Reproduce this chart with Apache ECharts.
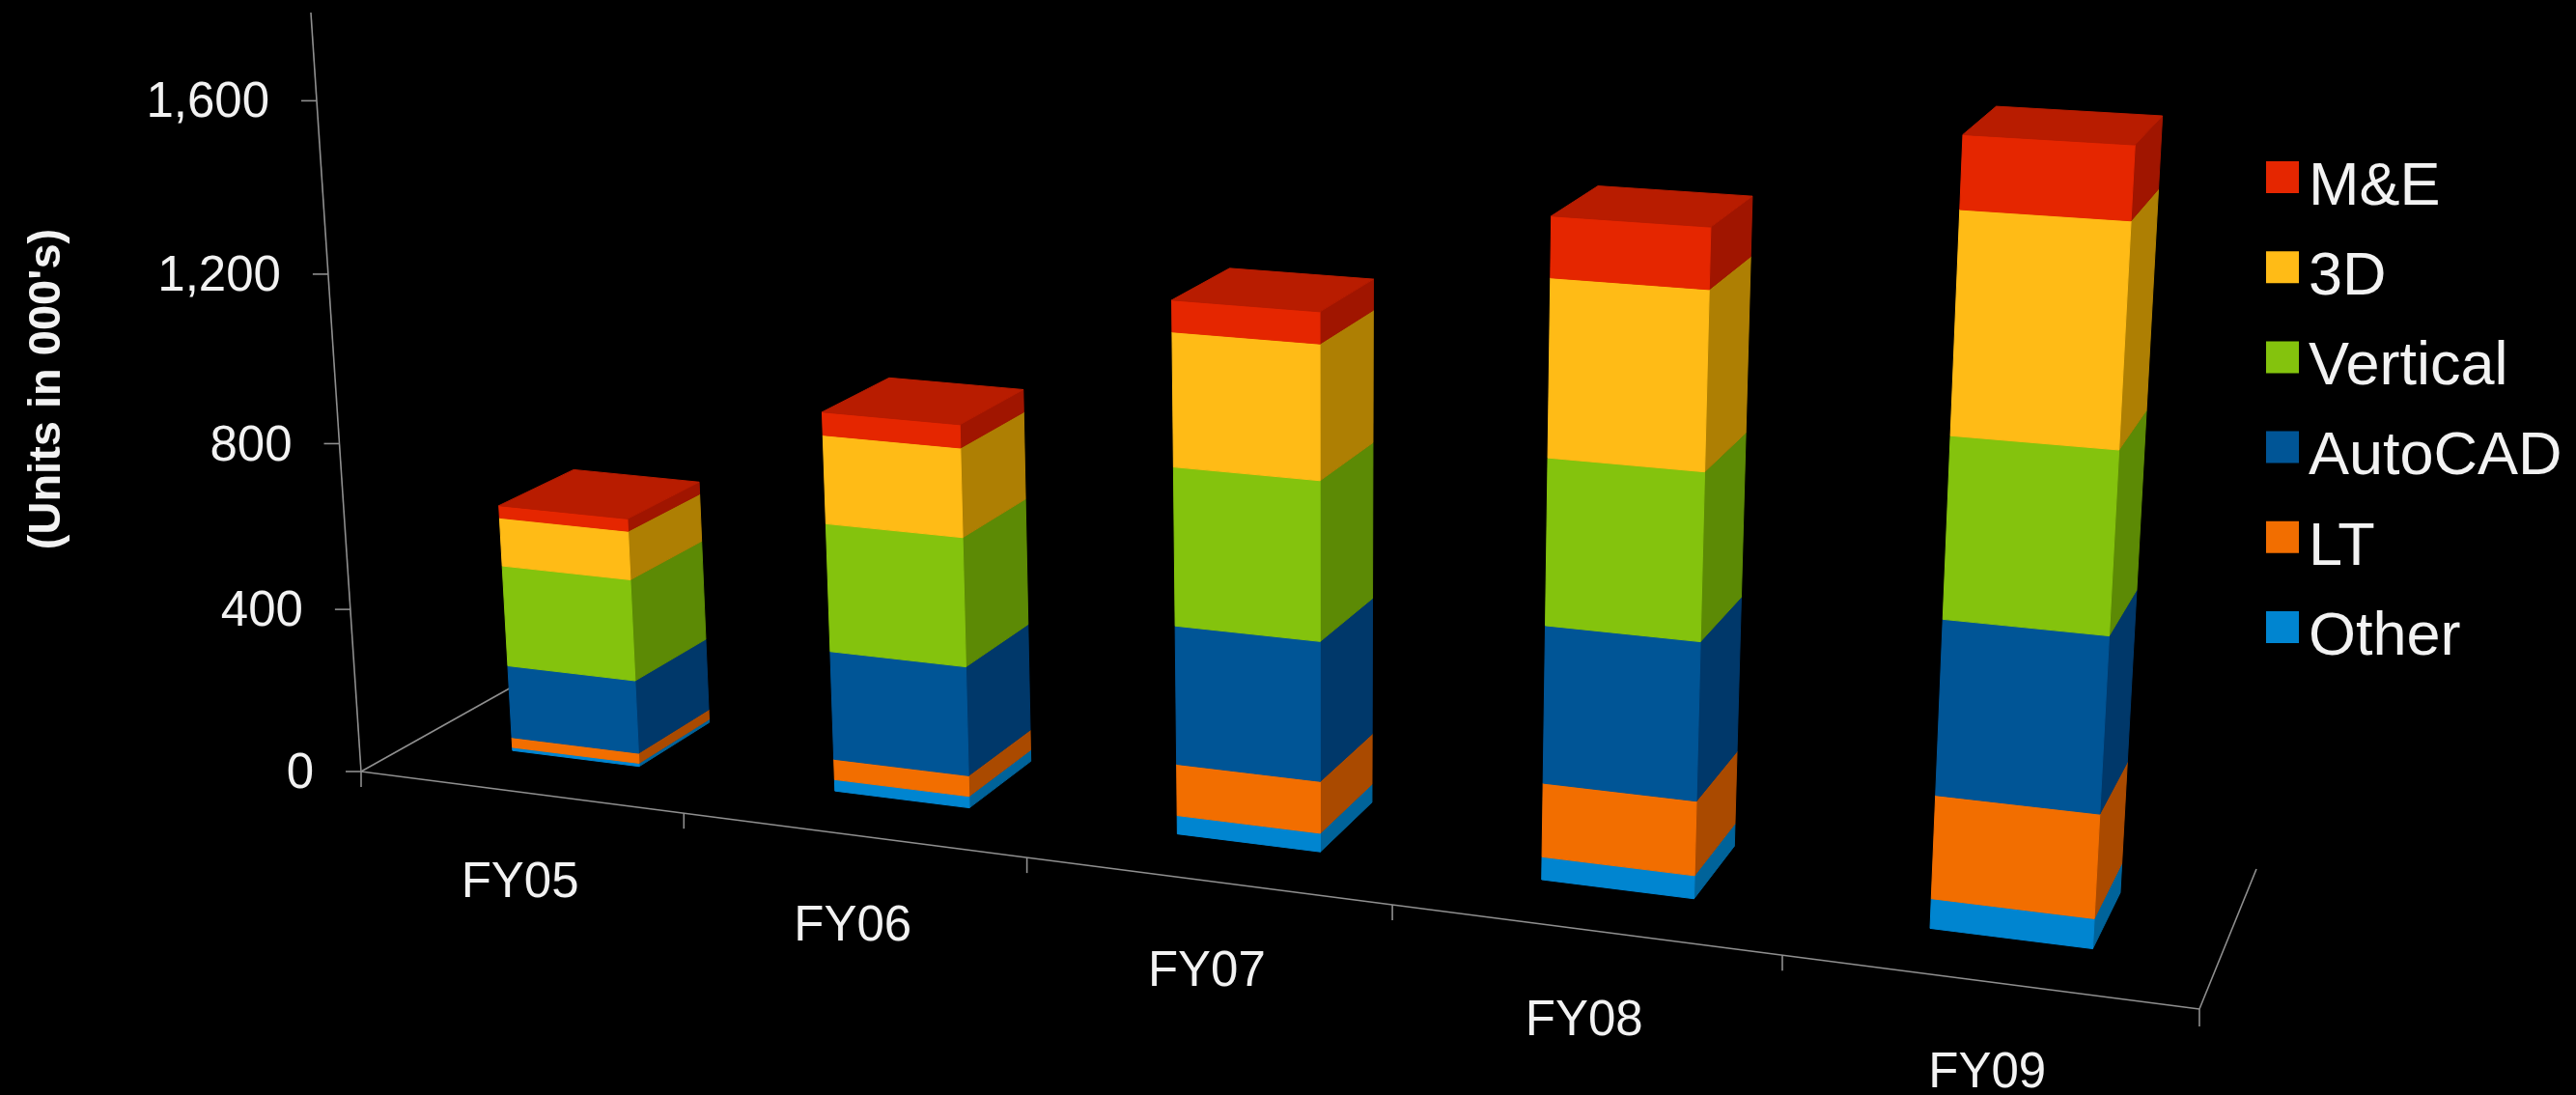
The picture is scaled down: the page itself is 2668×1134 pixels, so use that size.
<!DOCTYPE html>
<html>
<head>
<meta charset="utf-8">
<title>Units by product line</title>
<script src="https://cdn.jsdelivr.net/npm/echarts@6/dist/echarts.min.js"></script>
<style>
  html, body { margin: 0; background: #000; }
  #chart { width: 2668px; height: 1134px; }
</style>
</head>
<body>
<div id="chart"></div>
<script>
// Fiscal years and units (000's) per product line, bottom of the stack first.
const categories = ['FY05', 'FY06', 'FY07', 'FY08', 'FY09'];
const other    = [8, 28, 44, 53, 67];
const lt       = [25, 50, 122, 170, 231];
const autocad  = [180, 262, 325, 358, 386];
const vertical = [248, 306, 366, 373, 393];
const threeD   = [118, 209, 305, 391, 471];
const me       = [30, 54, 71, 132, 153];
const valueTicks = [0, 400, 800, 1200, 1600];
const valueMax = 1800;

const stackNames = ['Other', 'LT', 'AutoCAD', 'Vertical', '3D', 'M&E'];
const stackValues = [other, lt, autocad, vertical, threeD, me];
const frontColors = ['#0085d0', '#f26e00', '#005596', '#84c30d', '#ffbb16', '#e52600'];
const sideColors  = ['#00639a', '#aa4a00', '#00386a', '#5c8a05', '#ae7f03', '#a01500'];
const topColors   = ['#00639a', '#aa4a00', '#00386a', '#5c8a05', '#ae7f03', '#b81c00'];

// Perspective camera: maps (across, depth, height), each 0..1, onto the page.
const CAM_X = [1566.5, 235.9, -67.9, 374];
const CAM_Y = [91.2, -52, -786.6, 799];
const CAM_W = [-0.14814, 0.07942, -0.04925, 1];
function project(u, v, h) {
  const w = CAM_W[0] * u + CAM_W[1] * v + CAM_W[2] * h + CAM_W[3];
  return [
    (CAM_X[0] * u + CAM_X[1] * v + CAM_X[2] * h + CAM_X[3]) / w,
    (CAM_Y[0] * u + CAM_Y[1] * v + CAM_Y[2] * h + CAM_Y[3]) / w
  ];
}

// The hidden grid is a 1000px unit box, so the axes' scales yield normalised positions.
const BOX = 1000;
const BAR_RATIO = 0.4;
const DEPTH_FRONT = 0.30;
const DEPTH_BACK = 0.71;
const AXIS_COLOR = '#8f8f8f';
const TEXT_COLOR = '#f2f2f2';
const FONT = '"Liberation Sans", Arial, sans-serif';
const TICK_LEN = 16;

function face(points, color) {
  return {
    type: 'polygon',
    shape: { points },
    style: { fill: color, stroke: color, lineWidth: 1 }
  };
}
function line(a, b) {
  return {
    type: 'line',
    shape: { x1: a[0], y1: a[1], x2: b[0], y2: b[1] },
    style: { stroke: AXIS_COLOR, lineWidth: 1.6 }
  };
}
function label(text, x, y, align, size) {
  return {
    type: 'text',
    style: {
      text, x, y, align, verticalAlign: 'middle',
      fill: TEXT_COLOR, fontSize: size, fontFamily: FONT
    }
  };
}

function renderSegment(params, api) {
  const s = params.seriesIndex - 2;
  const centre = api.coord([api.value(0), 0]);
  const band = api.size([1, 0])[0];
  const u = centre[0] / BOX;
  const half = (band * BAR_RATIO / 2) / BOX;
  const lo = 1 - api.coord([api.value(0), api.value(1)])[1] / BOX;
  const hi = 1 - api.coord([api.value(0), api.value(2)])[1] / BOX;
  const u0 = u - half, u1 = u + half;
  const children = [
    face([project(u1, DEPTH_FRONT, lo), project(u1, DEPTH_BACK, lo),
          project(u1, DEPTH_BACK, hi), project(u1, DEPTH_FRONT, hi)], sideColors[s]),
    face([project(u0, DEPTH_FRONT, lo), project(u1, DEPTH_FRONT, lo),
          project(u1, DEPTH_FRONT, hi), project(u0, DEPTH_FRONT, hi)], frontColors[s])
  ];
  if (s === stackNames.length - 1) {
    children.push(face([project(u0, DEPTH_FRONT, hi), project(u1, DEPTH_FRONT, hi),
                        project(u1, DEPTH_BACK, hi), project(u0, DEPTH_BACK, hi)], topColors[s]));
  }
  return { type: 'group', children };
}

// Value axis: the tall edge, with a tick and label at each step.
function renderValueTick(params, api) {
  const value = api.value(1);
  const h = 1 - api.coord([0, value])[1] / BOX;
  const p = project(0, 0, h);
  const children = [
    line([p[0] - TICK_LEN, p[1]], p),
    label(value.toLocaleString('en-US'), p[0] - TICK_LEN - 33, p[1] + 3, 'right', 51)
  ];
  if (params.dataIndex === 0) {
    children.push(line(project(0, 0, 0), project(0, 0, 1)));
    children.push(line(project(0, 0, 0), project(0, 1, 0)));
    children.push(line(project(0, 0, 0), project(1, 0, 0)));
    children.push(line(project(1, 0, 0), project(1, 1, 0)));
    const end = project(1, 0, 0);
    children.push(line(end, [end[0], end[1] + TICK_LEN + 2]));
    const start = project(0, 0, 0);
    children.push(line(start, [start[0], start[1] + TICK_LEN]));
  }
  return { type: 'group', children };
}

// Category axis: a tick at the end of each band, the label under the band's centre.
function renderCategoryTick(params, api) {
  const centre = api.coord([api.value(0), 0]);
  const band = api.size([1, 0])[0];
  const mid = project(centre[0] / BOX, 0, 0);
  const children = [
    label(categories[api.value(0)], mid[0], mid[1] + 95, 'center', 51)
  ];
  if (params.dataIndex < categories.length - 1) {
    const t = project((centre[0] + band / 2) / BOX, 0, 0);
    children.push(line(t, [t[0], t[1] + TICK_LEN]));
  }
  return { type: 'group', children };
}

const barSeries = stackNames.map((name, s) => ({
  name,
  type: 'custom',
  coordinateSystem: 'cartesian2d',
  clip: false,
  z: 5,
  itemStyle: { color: frontColors[s] },
  encode: { x: 0, y: [1, 2] },
  renderItem: renderSegment,
  data: categories.map((c, i) => {
    let base = 0;
    for (let k = 0; k < s; k++) base += stackValues[k][i];
    return [i, base, base + stackValues[s][i]];
  })
}));

const chart = echarts.init(document.getElementById('chart'));
chart.setOption({
  animation: false,
  backgroundColor: '#000',
  grid: { left: 0, top: 0, width: BOX, height: BOX, containLabel: false },
  xAxis: { type: 'category', data: categories, show: false },
  yAxis: { type: 'value', min: 0, max: valueMax, show: false },
  legend: {
    data: stackNames.slice().reverse(),
    orient: 'vertical',
    left: 2342,
    top: 158,
    // The swatch sits in the upper part of its symbol box, level with the cap tops of the text.
    icon: 'path://M0 0H34V33H0Z M0 55H0.01V55H0Z',
    itemWidth: 34,
    itemHeight: 55,
    itemGap: 30.2,
    selectedMode: false,
    textStyle: {
      color: TEXT_COLOR, fontSize: 63, fontFamily: FONT,
      padding: [0, 0, 0, 5]
    }
  },
  graphic: [{
    type: 'text',
    x: 49,
    y: 403,
    rotation: Math.PI / 2,
    style: {
      text: "(Units in 000's)",
      align: 'center', verticalAlign: 'middle',
      fill: TEXT_COLOR, fontSize: 47, fontWeight: 'bold', fontFamily: FONT
    }
  }],
  series: [
    {
      type: 'custom', name: 'value axis', coordinateSystem: 'cartesian2d', clip: false, z: 1,
      renderItem: renderValueTick, data: valueTicks.map(t => [0, t])
    },
    {
      type: 'custom', name: 'category axis', coordinateSystem: 'cartesian2d', clip: false, z: 1,
      renderItem: renderCategoryTick, data: categories.map((c, i) => [i, 0])
    }
  ].concat(barSeries)
});
</script>
</body>
</html>
